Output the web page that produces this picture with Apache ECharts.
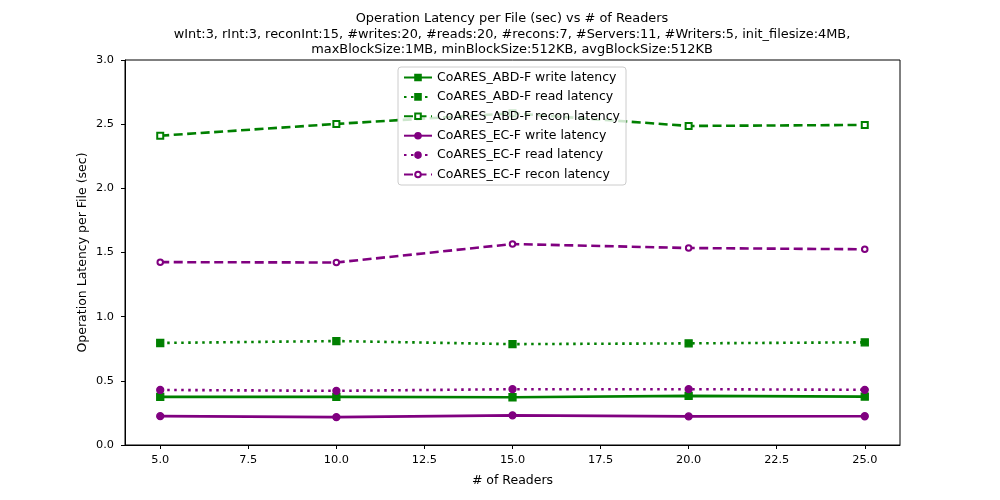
<!DOCTYPE html>
<html>
<head>
<meta charset="utf-8">
<title>Operation Latency per File</title>
<script src="https://cdn.jsdelivr.net/npm/echarts@6/dist/echarts.min.js"></script>
<style>
    html, body { margin: 0; padding: 0; background: #fff; }
    #main { width: 1000px; height: 500px; }
</style>
</head>
<body>
<div id="main"></div>
<script>
// # of Readers
var readers = [5, 10, 15, 20, 25];
var xTicks = [5, 7.5, 10, 12.5, 15, 17.5, 20, 22.5, 25];

// latency per file (sec)
var abdWrite = [0.375, 0.375, 0.372, 0.383, 0.377];
var abdRead = [0.795, 0.810, 0.786, 0.792, 0.800];
var abdRecon = [2.410, 2.502, 2.585, 2.486, 2.494];
var ecWrite = [0.225, 0.217, 0.231, 0.223, 0.224];
var ecRead = [0.429, 0.422, 0.435, 0.435, 0.430];
var ecRecon = [1.425, 1.422, 1.566, 1.535, 1.525];

var names = [
    'CoARES_ABD-F write latency',
    'CoARES_ABD-F read latency',
    'CoARES_ABD-F recon latency',
    'CoARES_EC-F write latency',
    'CoARES_EC-F read latency',
    'CoARES_EC-F recon latency'
];

var green = '#008000';
var purple = '#800080';
var FONT = 'DejaVu Sans';

function pairs(arr) {
    var out = [];
    for (var i = 0; i < readers.length; i++) {
        out.push([readers[i], arr[i]]);
    }
    return out;
}

function makeSeries(name, arr, color, symbol, size, dash) {
    return {
        name: name,
        type: 'line',
        data: pairs(arr),
        symbol: symbol,
        symbolSize: size,
        showSymbol: true,
        color: color,
        itemStyle: { color: color, borderColor: color, borderWidth: 1.3 },
        lineStyle: { color: color, width: 2.6, type: dash },
        emphasis: { disabled: true }
    };
}

var myChart = echarts.init(document.getElementById('main'), null, { renderer: 'canvas' });

var option = {
    animation: false,
    backgroundColor: '#fff',
    textStyle: { fontFamily: FONT },
    title: {
        text: 'Operation Latency per File (sec) vs # of Readers\n' +
            'wInt:3, rInt:3, reconInt:15, #writes:20, #reads:20, #recons:7, #Servers:11, #Writers:5, init_filesize:4MB,\n' +
            'maxBlockSize:1MB, minBlockSize:512KB, avgBlockSize:512KB',
        left: 507,
        top: 6,
        textAlign: 'center',
        textStyle: {
            fontFamily: FONT,
            fontSize: 12.9,
            fontWeight: 'normal',
            color: '#000',
            lineHeight: 15.5
        }
    },
    legend: {
        orient: 'vertical',
        left: 398,
        top: 67,
        padding: [4, 6, 4, 5],
        itemWidth: 28,
        itemHeight: 7,
        itemGap: 6.4,
        backgroundColor: 'rgba(255,255,255,0.8)',
        borderColor: '#cccccc',
        borderWidth: 1,
        borderRadius: 3,
        textStyle: { fontFamily: FONT, fontSize: 12.5, color: '#000' },
        data: names
    },
    grid: {
        left: 125,
        right: 100,
        top: 60,
        bottom: 55,
        show: true,
        borderColor: '#000',
        borderWidth: 1,
        backgroundColor: 'transparent'
    },
    xAxis: {
        type: 'value',
        min: 4,
        max: 26,
        name: '# of Readers',
        nameLocation: 'middle',
        nameGap: 29,
        nameMoveOverlap: false,
        nameTextStyle: { fontFamily: FONT, fontSize: 12.5, color: '#000' },
        axisLine: { show: true, lineStyle: { color: '#000', width: 1 } },
        axisTick: { show: true, length: 4, lineStyle: { color: '#000' }, customValues: xTicks },
        axisLabel: {
            fontFamily: FONT, fontSize: 11.3, color: '#000', margin: 10,
            customValues: xTicks,
            formatter: function (v) { return v.toFixed(1); }
        },
        splitLine: { show: false }
    },
    yAxis: {
        type: 'value',
        min: 0,
        max: 3,
        interval: 0.5,
        name: 'Operation Latency per File (sec)',
        nameLocation: 'middle',
        nameRotate: 90,
        nameGap: 36,
        nameMoveOverlap: false,
        nameTextStyle: { fontFamily: FONT, fontSize: 12.5, color: '#000' },
        axisLine: { show: true, lineStyle: { color: '#000', width: 1 } },
        axisTick: { show: true, length: 4, lineStyle: { color: '#000' } },
        axisLabel: {
            fontFamily: FONT, fontSize: 11.3, color: '#000', margin: 11,
            formatter: function (v) { return v.toFixed(1); }
        },
        splitLine: { show: false }
    },
    series: [
        makeSeries(names[0], abdWrite, green, 'rect', 7, 'solid'),
        makeSeries(names[1], abdRead, green, 'rect', 7, [2.5, 4.5]),
        makeSeries(names[2], abdRecon, green, 'emptyRect', 6, [9, 4.5]),
        makeSeries(names[3], ecWrite, purple, 'circle', 7, 'solid'),
        makeSeries(names[4], ecRead, purple, 'circle', 7, [2.5, 4.5]),
        makeSeries(names[5], ecRecon, purple, 'emptyCircle', 5.5, [9, 4.5])
    ]
};

myChart.setOption(option);
</script>
</body>
</html>
